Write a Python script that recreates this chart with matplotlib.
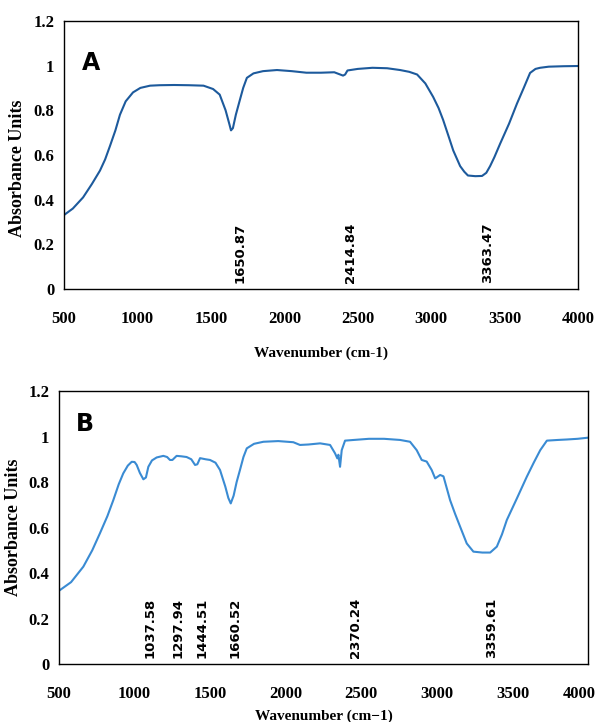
import numpy as np
import matplotlib
matplotlib.use("Agg")
import matplotlib.pyplot as plt
import matplotlib.transforms as mtransforms

# spectrum A (wavenumber, absorbance)
wn_a = [500, 560, 630, 690, 745, 780, 813, 850, 881, 920, 970, 1020, 1086, 1150, 1250,
        1350, 1450, 1515, 1560, 1600, 1625, 1637, 1650, 1670, 1699, 1720, 1745, 1790,
        1855, 1950, 2050, 2150, 2250, 2340, 2380, 2400, 2414, 2430, 2500, 2600, 2700,
        2788, 2850, 2904, 2960, 3013, 3050, 3081, 3120, 3150, 3197, 3225, 3250, 3300,
        3346, 3375, 3401, 3430, 3469, 3530, 3584, 3630, 3673, 3710, 3741, 3800, 3900, 4000]
ab_a = [0.331, 0.36, 0.41, 0.47, 0.53, 0.58, 0.64, 0.71, 0.78, 0.84, 0.88, 0.90, 0.91, 0.912, 0.913,
        0.912, 0.91, 0.895, 0.87, 0.80, 0.74, 0.71, 0.72, 0.78, 0.85, 0.90, 0.945, 0.965,
        0.975, 0.98, 0.975, 0.968, 0.968, 0.97, 0.96, 0.955, 0.96, 0.978, 0.985, 0.99, 0.988,
        0.98, 0.972, 0.96, 0.92, 0.86, 0.81, 0.757, 0.68, 0.62, 0.55, 0.525, 0.508, 0.505,
        0.506, 0.52, 0.55, 0.59, 0.65, 0.74, 0.83, 0.90, 0.967, 0.985, 0.99, 0.995, 0.997, 0.998]

# spectrum B
wn_b = [500, 580, 661, 720, 771, 820, 859, 895, 925, 955, 981, 1000, 1014, 1035, 1058, 1075,
        1091, 1115, 1146, 1190, 1215, 1234, 1250, 1278, 1310, 1344, 1375, 1400, 1415, 1433,
        1470, 1499, 1535, 1565, 1600, 1620, 1636, 1655, 1675, 1697, 1720, 1742, 1790, 1852,
        1950, 2050, 2094, 2150, 2227, 2293, 2326, 2341, 2348, 2359, 2370, 2392, 2450, 2550,
        2650, 2756, 2822, 2866, 2899, 2932, 2965, 2988, 3021, 3043, 3087, 3120, 3153, 3197,
        3241, 3300, 3352, 3396, 3430, 3462, 3530, 3594, 3640, 3683, 3727, 3800, 3859, 3930, 4000]
ab_b = [0.322, 0.36, 0.428, 0.50, 0.575, 0.65, 0.72, 0.79, 0.838, 0.872, 0.889, 0.888, 0.875, 0.84, 0.812, 0.82,
        0.867, 0.895, 0.908, 0.915, 0.91, 0.897, 0.897, 0.915, 0.913, 0.91, 0.90, 0.875, 0.878, 0.905,
        0.90, 0.897, 0.885, 0.853, 0.78, 0.73, 0.706, 0.74, 0.80, 0.853, 0.91, 0.948, 0.968, 0.977,
        0.98, 0.975, 0.963, 0.965, 0.97, 0.963, 0.926, 0.904, 0.92, 0.867, 0.94, 0.982, 0.985, 0.99,
        0.99, 0.985, 0.977, 0.94, 0.897, 0.89, 0.853, 0.816, 0.831, 0.825, 0.72, 0.66, 0.604, 0.53,
        0.494, 0.49, 0.49, 0.516, 0.57, 0.633, 0.73, 0.823, 0.885, 0.94, 0.982, 0.985, 0.987, 0.99, 0.995]

peaks_a = ["1650.87", "2414.84", "3363.47"]
peaks_b = ["1037.58", "1297.94", "1444.51", "1660.52", "2370.24", "3359.61"]
# where the peak labels sit along x
lab_x_a = [1699, 2448, 3387]
lab_x_b = [1102, 1289, 1443, 1664, 2458, 3358]

serif = "Liberation Serif"

fig = plt.figure(figsize=(6.02, 7.22), dpi=100)
ax1 = fig.add_axes([0.1063, 0.5997, 0.854, 0.3714])
ax2 = fig.add_axes([0.098, 0.0803, 0.879, 0.3781])

panels = [
    (ax1, wn_a, ab_a, "#1d5a9c", "A", 684, 1.012, peaks_a, lab_x_a, "Wavenumber (cm-1)", -0.213, -0.074, 0.45),
    (ax2, wn_b, ab_b, "#3a8bd3", "B", 669, 1.055, peaks_b, lab_x_b, "Wavenumber (cm\u22121)", -0.165, -0.070, 0.50),
]

for ax, x, y, col, letter, lx, ly, labs, labx, xl, xly, ylx, yly in panels:
    ax.plot(x, y, color=col, lw=1.5)
    ax.set_xlim(500, 4000)
    ax.set_ylim(0, 1.2)
    ax.set_xticks([500, 1000, 1500, 2000, 2500, 3000, 3500, 4000])
    ax.set_yticks([0, 0.2, 0.4, 0.6, 0.8, 1, 1.2])
    ax.set_yticklabels(["0", "0.2", "0.4", "0.6", "0.8", "1", "1.2"])
    ax.tick_params(axis="x", length=0, pad=16)
    ax.tick_params(axis="y", length=0, pad=7)
    for t in ax.get_xticklabels() + ax.get_yticklabels():
        t.set_fontfamily(serif)
        t.set_fontweight("bold")
        t.set_fontsize(12)
    for s in ax.spines.values():
        s.set_linewidth(1.0)
        s.set_color("black")
    ax.set_xlabel(xl, fontfamily=serif, fontweight="bold", fontsize=11)
    ax.xaxis.set_label_coords(0.5, xly)
    ax.set_ylabel("Absorbance Units", fontfamily=serif, fontweight="bold", fontsize=13)
    ax.yaxis.set_label_coords(ylx, yly)
    ax.text(lx, ly, letter, fontfamily=["Liberation Sans Narrow", "DejaVu Sans"],
            fontweight="bold", fontsize=17, ha="center", va="center")
    for lab, px in zip(labs, labx):
        ax.text(px, 0.025, lab, rotation=90, ha="center", va="bottom",
                fontfamily="DejaVu Sans", fontweight="bold", fontsize=9.5)

# last tick label of panel B sits a little inside the figure edge
last = ax2.get_xticklabels()[-1]
last.set_transform(last.get_transform() + mtransforms.ScaledTranslation(-9 / 100, 0, fig.dpi_scale_trans))

fig.savefig("out.png", dpi=100)
